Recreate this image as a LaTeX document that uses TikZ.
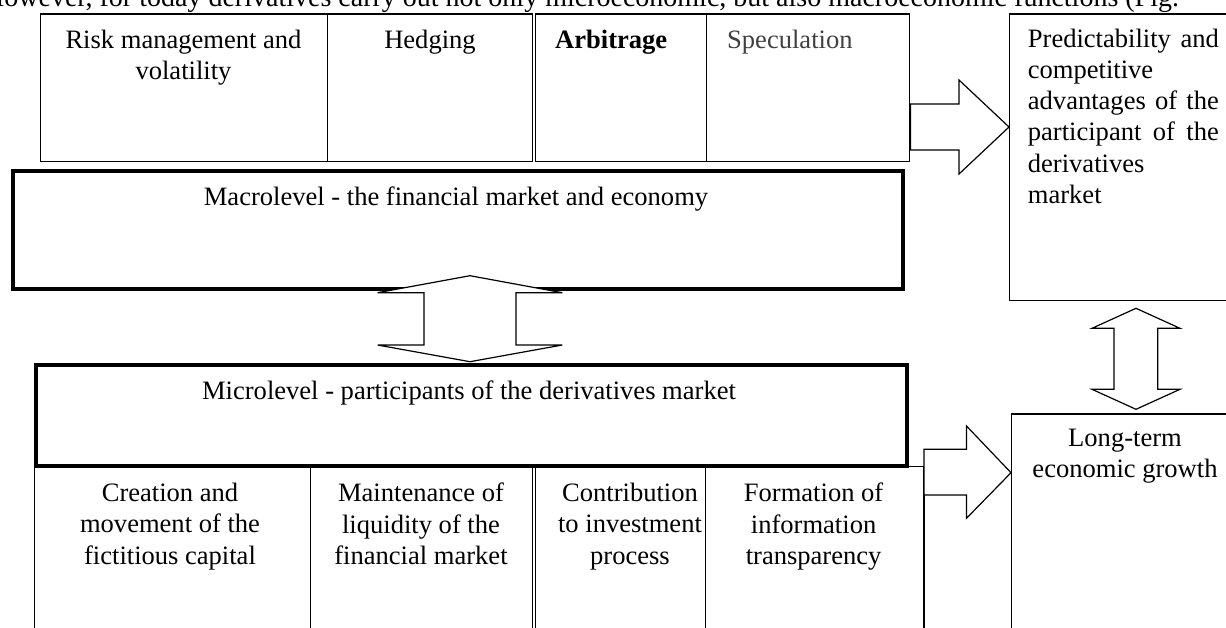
\documentclass[tikz,border=0pt]{standalone}
\usepackage{fontspec}
\setmainfont{Liberation Serif}

\tikzset{
  cell/.style={draw, line width=1.2pt, inner sep=0pt, anchor=north west},
  level/.style={draw, line width=4pt, inner sep=0pt, anchor=north west},
  lbl/.style={inner sep=0pt, align=center, anchor=north},
  blockarrow/.style={draw, line width=1.2pt, fill=white, line join=miter},
  every node/.style={font=\fontsize{26.55}{31.2}\selectfont},
}

\begin{document}
\begin{tikzpicture}[x=1pt,y=-1pt]

\clip (0,0) rectangle (1226,627);

\node [inner sep=0pt, anchor=base west, font=\fontsize{28}{32}\selectfont] (intro) at (-16,6) {However, for today derivatives carry out not only microeconomic, but also macroeconomic functions (Fig.};

% upper row of functions
\node [cell, minimum width=287pt, minimum height=147.4pt] (risk) at (40,13.3) {};
\node [cell, minimum width=204.5pt, minimum height=147.4pt] (hedge) at (327,13.3) {};
\node [cell, minimum width=171.5pt, minimum height=147.4pt] (arbit) at (534.5,13.3) {};
\node [cell, minimum width=202.6pt, minimum height=147.4pt] (specul) at (706,13.3) {};

\node [lbl] (tRisk) at (183.5,30) {Risk management and\\volatility};
\node [lbl] (tHedge) at (430,30) {Hedging};
\node [lbl, anchor=north west] (tArbit) at (555,30) {\bfseries Arbitrage};
\node [lbl, anchor=north west, text=black!75] (tSpecul) at (727,30) {Speculation};

% the two levels
\node [level, minimum width=890pt, minimum height=118.2pt] (macro) at (11,168.5) {};
\node [lbl] (tMacro) at (456,187) {Macrolevel - the financial market and economy};

\node [level, minimum width=871.4pt, minimum height=101.3pt] (micro) at (33.6,362.7) {};
\node [lbl] (tMicro) at (469,380.6) {Microlevel - participants of the derivatives market};

% lower row of functions
\node [cell, minimum width=275.6pt, minimum height=180pt] (creat) at (34,465.7) {};
\node [cell, minimum width=221.9pt, minimum height=180pt] (maint) at (309.6,465.7) {};
\node [cell, minimum width=170.1pt, minimum height=180pt] (contr) at (534.5,465.7) {};
\node [cell, minimum width=218.8pt, minimum height=180pt] (form) at (704.6,465.7) {};

\node [lbl] (tCreat) at (170,483) {Creation and\\movement of the\\fictitious capital};
\node [lbl] (tMaint) at (421,483) {Maintenance of\\liquidity of the\\financial market};
\node [lbl] (tContr) at (630,483) {Contribution\\to investment\\process};
\node [lbl] (tForm) at (813.6,483) {Formation of\\information\\transparency};

% results on the right
\node [cell, minimum width=231pt, minimum height=286.7pt] (pred) at (1008.7,13.3) {};
\node [lbl, anchor=north west, align=left, text width=191pt] (tPred) at (1027.7,28.6)
  {Predictability\hfill and\\competitive\\advantages\hfill of\hfill the\\participant\hfill of\hfill the\\derivatives\\market};

\node [cell, minimum width=228pt, minimum height=240pt] (growth) at (1011,413.3) {};
\node [lbl] (tGrowth) at (1125,429) {Long-term\\economic growth};

% block arrows
\draw[blockarrow] (910.6,104) -- (959,104) -- (959,80) -- (1009,127) -- (959,174) -- (959,150) -- (910.6,150) -- cycle; % functions -> advantages
\draw[blockarrow] (924,449.3) -- (966.5,449.3) -- (966.5,426) -- (1011,472.7) -- (966.5,518.3) -- (966.5,495) -- (924,495) -- cycle; % functions -> growth
\draw[blockarrow] (470,275.7) -- (562.3,292.7) -- (516,292.7) -- (516,345) -- (562.3,345) -- (470,361.7)
  -- (377.6,345) -- (424,345) -- (424,292.7) -- (377.6,292.7) -- cycle; % macro <-> micro
\draw[blockarrow] (1136,308.3) -- (1180,328.3) -- (1157.7,328.3) -- (1157.7,389.3) -- (1180,389.3) -- (1136,409.3)
  -- (1092,389.3) -- (1114,389.3) -- (1114,328.3) -- (1092,328.3) -- cycle; % advantages <-> growth

\end{tikzpicture}
\end{document}
